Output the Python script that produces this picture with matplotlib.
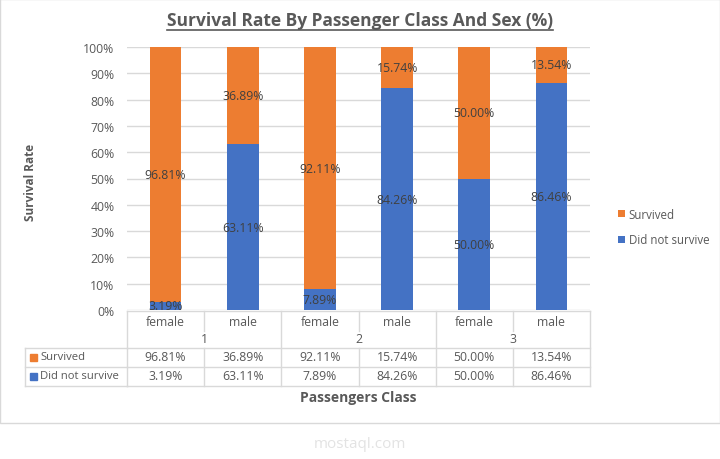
import matplotlib
matplotlib.use("Agg")
import matplotlib.pyplot as plt
from matplotlib.transforms import blended_transform_factory
from matplotlib.lines import Line2D
from matplotlib.patches import Rectangle

classes = ["1", "2", "3"]
sexes = ["female", "male", "female", "male", "female", "male"]
survived = [96.81, 36.89, 92.11, 15.74, 50.00, 13.54]
not_survived = [3.19, 63.11, 7.89, 84.26, 50.00, 86.46]
yticks = [0, 10, 20, 30, 40, 50, 60, 70, 80, 90, 100]

ORANGE = "#ED7D31"
BLUE = "#4472C4"
GRID = "#D9D9D9"
TXT = "#595959"
LBL = "#404040"

plt.rcParams["font.family"] = ["Open Sans", "DejaVu Sans"]

W, H = 720, 460
fig = plt.figure(figsize=(W / 100, H / 100), dpi=100)


def fx(px):
    return px / W


def fy(py):
    return (H - py) / H


# plot area in pixels: x 127..590, y 48..311
ax = fig.add_axes([fx(127), fy(311), fx(590) - fx(127), fy(48) - fy(311)])
x = list(range(len(sexes)))
ax.bar(x, not_survived, width=0.41, color=BLUE, label="Did not survive", zorder=3)
ax.bar(x, survived, width=0.41, bottom=not_survived, color=ORANGE,
       label="Survived", zorder=3)

for i in x:
    ax.text(i, not_survived[i] / 2, f"{not_survived[i]:.2f}%", ha="center",
            va="center", fontsize=8.8, color=LBL, zorder=4)
    ax.text(i, not_survived[i] + survived[i] / 2, f"{survived[i]:.2f}%",
            ha="center", va="center", fontsize=8.8, color=LBL, zorder=4)

ax.set_xlim(-0.5, len(sexes) - 0.5)
ax.set_ylim(0, 100)
ax.set_yticks(yticks)
ax.set_yticklabels([f"{t}%" for t in yticks], fontsize=8.8, color=TXT)
ax.tick_params(axis="y", length=0, pad=9)
ax.set_xticks([])
for s in ax.spines.values():
    s.set_visible(False)
ax.grid(axis="y", color=GRID, linewidth=1, zorder=0)

# legend on right
handles, labels = ax.get_legend_handles_labels()
fig.legend(handles[::-1], labels[::-1], loc="center left",
           bbox_to_anchor=(fx(608), fy(228)), frameon=False, fontsize=8.3,
           handlelength=0.6, handleheight=0.6, handletextpad=0.3,
           labelspacing=1.1, labelcolor=TXT)

# data table below the plot
tr = blended_transform_factory(ax.transData, fig.transFigure)
ft = fig.transFigure
lw = 1.0
y_top, y_mid, y_hdr, y_r1, y_r2 = 312, 332, 349, 368, 387


def hline(x0, x1, py, trans):
    fig.add_artist(Line2D([x0, x1], [fy(py), fy(py)], transform=trans,
                          color=GRID, lw=lw))


def vline(xv, py0, py1, trans):
    fig.add_artist(Line2D([xv, xv], [fy(py0), fy(py1)], transform=trans,
                          color=GRID, lw=lw))


n = len(sexes)
hline(-0.5, n - 0.5, y_top, tr)
hline(fx(25), fx(127), y_hdr, ft)
hline(-0.5, n - 0.5, y_hdr, tr)
hline(fx(25), fx(127), y_r1, ft)
hline(-0.5, n - 0.5, y_r1, tr)
hline(fx(25), fx(127), y_r2, ft)
hline(-0.5, n - 0.5, y_r2, tr)
vline(fx(25), y_hdr, y_r2, ft)
for k in range(n + 1):
    xv = k - 0.5
    if k % 2 == 0:
        vline(xv, y_top, y_r2, tr)
    else:
        vline(xv, y_top, y_mid, tr)
        vline(xv, y_hdr, y_r2, tr)

for i in x:
    fig.text(i, fy(322), sexes[i], transform=tr, ha="center", va="center",
             fontsize=8.8, color=TXT)
    fig.text(i, fy(358), f"{survived[i]:.2f}%", transform=tr, ha="center",
             va="center", fontsize=8.8, color=TXT)
    fig.text(i, fy(377), f"{not_survived[i]:.2f}%", transform=tr,
             ha="center", va="center", fontsize=8.8, color=TXT)
for j, c in enumerate(classes):
    fig.text(2 * j + 0.5, fy(340), c, transform=tr, ha="center", va="center",
             fontsize=8.8, color=TXT)

for py, name, col in [(358, "Survived", ORANGE), (377, "Did not survive", BLUE)]:
    fig.add_artist(Rectangle((fx(30), fy(py + 4)), fx(7), fy(0) - fy(7),
                             transform=ft, color=col))
    fig.text(fx(40), fy(py), name, ha="left", va="center", fontsize=8.1,
             color=TXT)

# titles
title = fig.text(fx(360), fy(21), "Survival Rate By Passenger Class And Sex (%)",
                 ha="center", va="center", fontsize=12.5, fontweight="bold",
                 color=TXT)
fig.text(fx(31), fy(182), "Survival Rate", rotation=90, ha="center",
         va="center", fontsize=8.5, fontweight="bold", color=TXT)
fig.text(fx(358), fy(398), "Passengers Class", ha="center", va="center",
         fontsize=10, fontweight="bold", color=TXT)

# chart border
fig.add_artist(Rectangle((0, fy(424)), 1, fy(0) - fy(424), transform=ft,
                         fill=False, edgecolor=GRID, lw=1))

# faint watermark
fig.text(fx(360), fy(445), "mostaql.com", ha="center", va="center",
         fontsize=11, color="#E3E3E3")

fig.canvas.draw()
bb = title.get_window_extent().transformed(ft.inverted())
fig.add_artist(Line2D([bb.x0, bb.x1], [fy(31), fy(31)], transform=ft,
                      color=TXT, lw=1.2))

fig.savefig("out.png", dpi=100)
